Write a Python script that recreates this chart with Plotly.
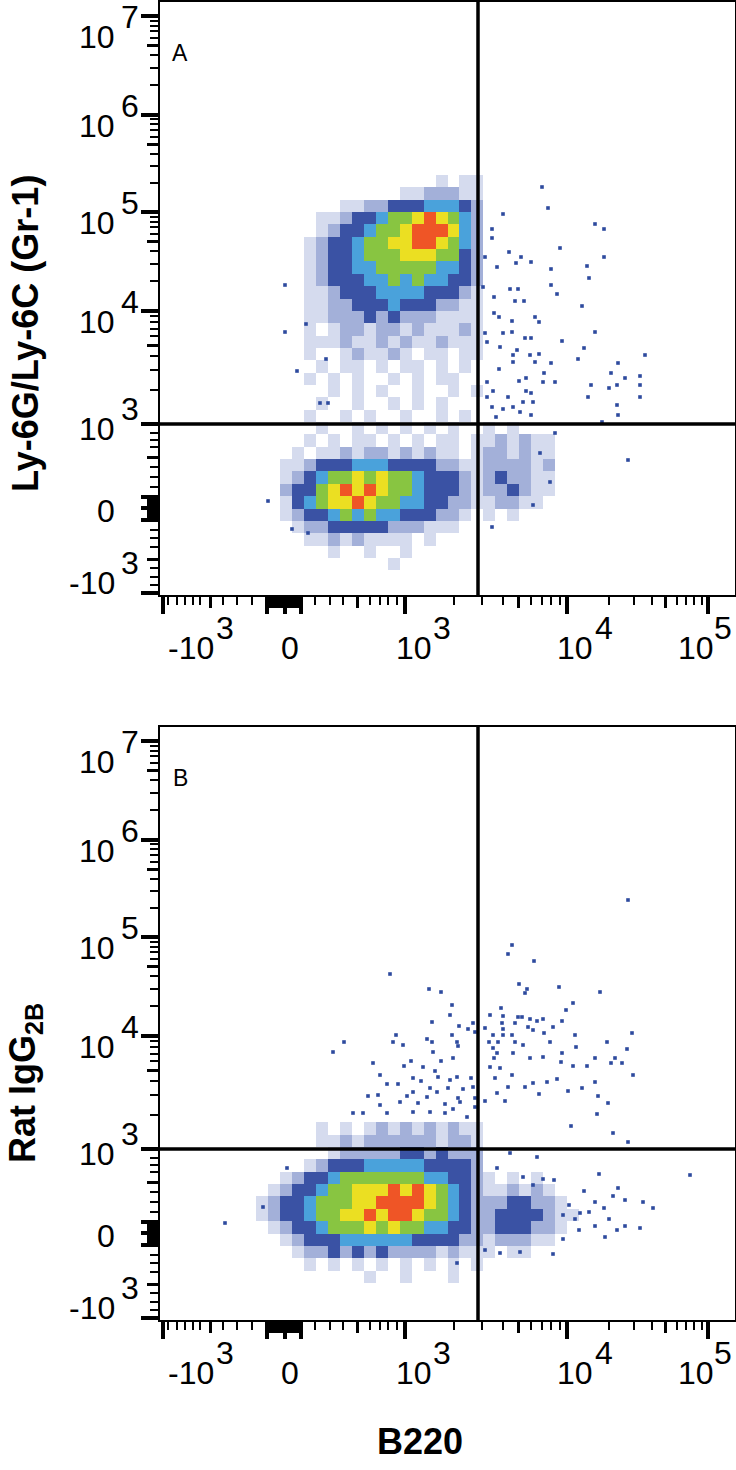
import numpy as np
import plotly.graph_objects as go

# Both panels use the same display scale (channels of the biexponential axes)
X_MAX = 575
Y_MAX = 593
N_CELLS = 48
DX = X_MAX / N_CELLS
DY = Y_MAX / N_CELLS

# quadrant gates (B220 vertical, 10^3 horizontal)
GATE_X = 318
GATE_Y = 171

# density levels, sparse -> dense
LEVELS = ".-bcgyr"
LEVEL_COLORS = ["#d5dbee", "#a3b0d9", "#3a52a4", "#4aa2db", "#88c541", "#ebdf22", "#ef5526"]
DOT_COLOR = "#2d4a9e"

# density maps: (row, first column, cells)
density_a = [
    (33, 23, ". .."),
    (32, 20, "..---.."),
    (31, 15, "..--bbbcccb-"),
    (30, 13, "..-bbcggyrygc-"),
    (29, 13, ".-bbcggyrrryc-"),
    (28, 12, ".-bbcggyyrrygc-"),
    (27, 12, ".-bbcgggyyyggb-"),
    (26, 12, ".-bbccgggggccb-"),
    (25, 12, ".-bbbccgcgccbb-"),
    (24, 12, "..-bbbccccbbb-."),
    (23, 12, "..--bbbcbbb--.."),
    (22, 12, "..---b-b---...."),
    (21, 12, ". .--.--.-...-."),
    (20, 12, "...-..-.-..-..."),
    (19, 12, ".  .-..-. .. .."),
    (18, 12, " . .. . .. . . "),
    (17, 12, ". . .  . . ..  "),
    (16, 12, "  . . .  .  . ."),
    (15, 12, " .  .  . . .   "),
    (14, 12, ".  . .  .  . . "),
    (13, 13, ".  . . . . ."),
    (13, 27, ". ."),
    (12, 12, ". . .. . . .. ."),
    (12, 27, ".-.-.."),
    (11, 11, ". ..-.--.-.-.. ."),
    (11, 27, "--.-.."),
    (10, 10, "..-bbbcccbbbb--."),
    (10, 26, ".----.-"),
    (9, 10, ".-bcggygyggcbbb-."),
    (9, 27, "-b--.."),
    (8, 10, "-bbgyryryggcbbb-."),
    (8, 27, "--b-.."),
    (7, 10, ".bcgyyryggccbb--."),
    (7, 27, ".--.."),
    (6, 10, ".-bbcgcgccbbb--."),
    (6, 27, ". ."),
    (5, 11, ".--bbbbb---..."),
    (4, 12, "..-.-.... ."),
    (3, 14, ".  .  ."),
    (2, 19, "."),
]

density_b = [
    (15, 13, ". . .-.-.-.-.."),
    (14, 13, "..-.------.--."),
    (13, 14, ".-----bb-b---"),
    (12, 12, ".-bbbcccccbbbb-"),
    (11, 10, ".-bbcgggggggccbb-"),
    (11, 27, ". . ."),
    (10, 9, ".-bbcggyyyryrygcb-"),
    (10, 27, "..-.-."),
    (9, 8, ".-bbcgggyyrrrrygcb-"),
    (9, 27, "--bb--."),
    (8, 8, ".-bbcggyyryrryggcb-"),
    (8, 27, "-bbbb-.."),
    (7, 9, ".-bbcgggygyggccbb-"),
    (7, 27, "-bbb--."),
    (6, 10, ".-bbbccccccbbbb--"),
    (6, 27, ".---.."),
    (5, 11, ".--b-b-b----.-.."),
    (5, 27, ". .."),
    (4, 12, ". . . . . . . ."),
    (3, 17, ".  .   ."),
]

# isolated events
dots_a_x = [382, 388, 343, 435, 444, 332, 332, 400, 349, 361, 371, 444, 325, 337, 356,
            391, 427, 429, 391, 323, 350, 358, 397, 334, 355, 364, 422, 334, 339, 352,
            375, 379, 325, 343, 352, 365, 371, 402, 435, 327, 340, 357, 353, 370, 379,
            424, 418, 485, 353, 375, 391, 458, 339, 384, 451, 480, 327, 359, 366, 383,
            395, 465, 431, 449, 457, 480, 333, 366, 371, 327, 348, 428, 480, 363, 373,
            457, 332, 343, 353, 360, 371, 458, 336, 442,
            125, 125, 146, 137, 166, 160, 168,
            108, 132, 148, 332, 468, 395, 380, 390, 373]
dots_a_y = [408, 387, 381, 371, 366, 366, 357, 347, 343, 338, 333, 338, 338, 328, 332,
            326, 329, 317, 310, 308, 306, 306, 301, 298, 294, 294, 289, 282, 278, 274,
            278, 273, 262, 262, 263, 257, 257, 254, 263, 253, 248, 245, 240, 240, 241,
            247, 236, 240, 233, 233, 232, 232, 226, 222, 222, 219, 213, 214, 217, 213,
            213, 217, 210, 207, 210, 210, 204, 204, 202, 198, 198, 198, 198, 193, 193,
            190, 188, 186, 188, 183, 180, 180, 178, 173,
            310, 263, 271, 224, 236, 192, 192,
            94, 66, 62, 68, 135, 162, 142, 113, 90]

dots_b_x = [230, 269, 281, 292, 290, 272, 299, 308, 313, 292, 315, 184, 173, 233, 236,
            243, 267, 272, 297, 298, 273, 213, 251, 244, 263, 293, 281, 220, 275, 278,
            297, 290, 238, 253, 261, 311, 227, 270, 277, 288, 303, 313, 218, 247, 253,
            267, 298, 315, 208, 220, 240, 258, 285, 300, 315, 193, 203, 227, 253, 270,
            285, 293, 307,
            468, 352, 348, 374, 359, 367, 365, 399, 440, 413, 406, 341, 330, 343, 358,
            362, 370, 377, 383, 402, 342, 355, 393, 325, 343, 368, 373, 333, 343, 352,
            384, 415, 472, 329, 338, 355, 363, 390, 416, 447, 333, 337, 353, 383, 402,
            467, 334, 370, 435, 455, 462, 451, 330, 340, 401, 413, 427, 473, 335, 352,
            387, 397, 435, 373, 365, 348, 408, 422, 337, 345, 379, 438, 448, 325, 437,
            411, 453, 468,
            350, 377, 439, 337, 363, 373, 383, 394, 424, 458, 453, 435, 444, 409, 420,
            429, 403, 415, 449, 465, 483, 493, 435, 419, 457, 465, 480, 445, 403, 393,
            360, 340, 325, 297, 530,
            65, 127, 103]
dots_b_y = [346, 331, 328, 315, 305, 298, 294, 291, 297, 285, 288, 278, 268, 278, 285,
            275, 281, 278, 278, 274, 268, 257, 259, 254, 253, 262, 259, 245, 249, 243,
            243, 240, 236, 242, 239, 242, 236, 232, 228, 232, 231, 233, 225, 224, 228,
            223, 222, 222, 224, 215, 218, 217, 216, 218, 213, 207, 207, 207, 208, 208,
            207, 211, 203,
            420, 375, 366, 359, 336, 331, 327, 333, 328, 317, 310, 312, 305, 304, 303,
            303, 301, 299, 301, 299, 297, 297, 293, 292, 291, 293, 290, 285, 285, 285,
            287, 285, 287, 278, 278, 278, 275, 278, 273, 278, 272, 267, 267, 263, 267,
            271, 262, 262, 262, 262, 257, 257, 253, 252, 258, 254, 254, 245, 242, 245,
            238, 241, 238, 237, 233, 233, 229, 232, 227, 219, 226, 224, 217, 219, 206,
            194, 187, 178,
            167, 163, 146, 152, 143, 135, 141, 140, 129, 132, 124, 118, 112, 115, 107,
            108, 105, 101, 101, 120, 118, 112, 94, 90, 90, 94, 92, 83, 81, 66,
            68, 67, 70, 57, 145,
            97, 152, 113]

# axis ticks (display channels)
X_DECADES = [245, 407, 548]            # 10^3, 10^4, 10^5
Y_DECADES = [171, 284, 383, 480, 579]  # 10^3 ... 10^7
X_MAJOR = [3, 107, 125, 141, 245, 407, 548]
X_MID = [50, 110, 113, 116, 119, 122, 128, 131, 134, 137, 197]
X_MINOR_LIN = [8, 17, 25, 33, 40, 63, 77, 92, 155, 170, 183, 210, 220, 228, 237]
Y_MAJOR = [2, 75, 87, 98, 171, 284, 383, 480, 579]
Y_MID = [36, 78, 81, 84, 90, 93, 96, 138]
Y_MINOR_LIN = [10, 18, 27, 48, 57, 65, 108, 118, 128, 148, 155, 162]

X_LABELS = [(3, "-10", "3"), (125, "0", ""), (245, "10", "3"), (407, "10", "4"), (548, "10", "5")]
Y_LABELS = [(579, "10", "7"), (480, "10", "6"), (383, "10", "5"), (284, "10", "4"),
            (171, "10", "3"), (87, "0", ""), (2, "-10", "3")]
# label offsets in pixels from the tick: (base, exponent)
X_LABEL_DX = [(28, 62), (5, 0), (9, 37), (8, 37), (-12, 15)]
Y_LABEL_DY = [(21, 1), (11, -9), (11, -9), (11, -9), (5, -15), (3, 0), (-10, -30)]


def decade_ticks(decades):
    mids, minors = [], []
    for lo, hi in zip(decades[:-1], decades[1:]):
        for n in range(2, 10):
            pos = lo + (hi - lo) * np.log10(n)
            (mids if n == 5 else minors).append(round(float(pos), 1))
    return mids, minors


xm, xn = decade_ticks(X_DECADES)
ym, yn = decade_ticks(Y_DECADES)
x_mid = X_MID + xm
x_minor = X_MINOR_LIN + xn
y_mid = Y_MID + ym
y_minor = Y_MINOR_LIN + yn


def density_grid(segments):
    z = [[None] * N_CELLS for _ in range(N_CELLS)]
    for row, col0, cells in segments:
        for k, ch in enumerate(cells):
            if ch != " ":
                z[row][col0 + k] = LEVELS.index(ch) + 1
    return z


n_lev = len(LEVELS)
colorscale = []
for i, c in enumerate(LEVEL_COLORS):
    colorscale += [[i / n_lev, c], [(i + 1) / n_lev, c]]

cell_x = [DX * (i + 0.5) for i in range(N_CELLS)]
cell_y = [DY * (j + 0.5) for j in range(N_CELLS)]

W, H = 736, 1470
X_DOM = [160 / W, 735 / W]
Y_DOM_A = [1 - 595 / H, 1 - 2 / H]
Y_DOM_B = [1 - 1320 / H, 1 - 727 / H]

TICK_FONT = dict(family="Liberation Sans Narrow, Liberation Sans", size=32, color="black")
TITLE_FONT = dict(family="Liberation Sans, Arial", size=36, color="black", weight="bold")

fig = go.Figure()
for dens, dx, dy, xa, ya in [(density_a, dots_a_x, dots_a_y, "x", "y"),
                             (density_b, dots_b_x, dots_b_y, "x2", "y2")]:
    fig.add_trace(go.Heatmap(x=cell_x, y=cell_y, z=density_grid(dens), colorscale=colorscale,
                             zmin=0.5, zmax=n_lev + 0.5, showscale=False, hoverinfo="skip",
                             xaxis=xa, yaxis=ya))
    fig.add_trace(go.Scatter(x=dx, y=dy, mode="markers", xaxis=xa, yaxis=ya, hoverinfo="skip",
                             marker=dict(symbol="square", size=3.6, color=DOT_COLOR, line_width=0),
                             showlegend=False))

# empty traces so the overlay axes carrying the mid-length ticks get drawn
for xa, ya in [("x3", "y"), ("x", "y3"), ("x4", "y2"), ("x2", "y4")]:
    fig.add_trace(go.Scatter(x=[None], y=[None], xaxis=xa, yaxis=ya, mode="markers",
                             hoverinfo="skip", showlegend=False))


def main_axis(dom, rng, anchor, major, minor):
    return dict(domain=dom, range=rng, anchor=anchor, showline=True, mirror=True,
                linecolor="black", linewidth=2, ticks="outside", tickvals=major,
                ticklen=17, tickwidth=4, tickcolor="black", showticklabels=False,
                showgrid=False, zeroline=False, fixedrange=True,
                minor=dict(tickvals=minor, ticks="outside", ticklen=8, tickwidth=2,
                           tickcolor="black", showgrid=False))


def mid_axis(dom, rng, anchor, over, mids, side):
    return dict(domain=dom, range=rng, anchor=anchor, overlaying=over, side=side,
                ticks="outside", tickvals=mids, ticklen=12, tickwidth=2.5, tickcolor="black",
                showticklabels=False, showline=False, showgrid=False, zeroline=False,
                fixedrange=True)


fig.update_layout(
    width=W, height=H, margin=dict(l=0, r=0, t=0, b=0),
    paper_bgcolor="white", plot_bgcolor="white", showlegend=False,
    xaxis=main_axis(X_DOM, [0, X_MAX], "y", X_MAJOR, x_minor),
    yaxis=main_axis(Y_DOM_A, [0, Y_MAX], "x", Y_MAJOR, y_minor),
    xaxis2=main_axis(X_DOM, [0, X_MAX], "y2", X_MAJOR, x_minor),
    yaxis2=main_axis(Y_DOM_B, [0, Y_MAX], "x2", Y_MAJOR, y_minor),
    xaxis3=mid_axis(X_DOM, [0, X_MAX], "y", "x", x_mid, "bottom"),
    yaxis3=mid_axis(Y_DOM_A, [0, Y_MAX], "x", "y", y_mid, "left"),
    xaxis4=mid_axis(X_DOM, [0, X_MAX], "y2", "x2", x_mid, "bottom"),
    yaxis4=mid_axis(Y_DOM_B, [0, Y_MAX], "x2", "y2", y_mid, "left"),
)

shapes = []
notes = []
for xa, ya, tag in [("x", "y", "A"), ("x2", "y2", "B")]:
    line = dict(color="black", width=3.5)
    shapes.append(dict(type="line", xref=xa, yref=f"{ya} domain", x0=GATE_X, x1=GATE_X,
                       y0=0, y1=1, line=line, layer="above"))
    shapes.append(dict(type="line", xref=f"{xa} domain", yref=ya, x0=0, x1=1,
                       y0=GATE_Y, y1=GATE_Y, line=line, layer="above"))
    notes.append(dict(xref=f"{xa} domain", yref=f"{ya} domain", x=0, y=1, xshift=20, yshift=-51,
                      text=tag, showarrow=False, xanchor="center", yanchor="middle",
                      font=dict(family="Liberation Sans, Arial", size=23, color="black")))
    for (val, base, exp), (bdx, edx) in zip(X_LABELS, X_LABEL_DX):
        notes.append(dict(xref=xa, yref=f"{ya} domain", x=val, y=0, xshift=bdx, yshift=-53,
                          text=base, showarrow=False, xanchor="center", yanchor="middle",
                          font=TICK_FONT))
        if exp:
            notes.append(dict(xref=xa, yref=f"{ya} domain", x=val, y=0, xshift=edx, yshift=-33,
                              text=exp, showarrow=False, xanchor="center", yanchor="middle",
                              font=TICK_FONT))
    for (val, base, exp), (bdy, edy) in zip(Y_LABELS, Y_LABEL_DY):
        notes.append(dict(xref=f"{xa} domain", yref=ya, x=0, y=val, xshift=-43, yshift=-bdy,
                          text=base, showarrow=False, xanchor="right", yanchor="middle",
                          font=TICK_FONT))
        if exp:
            notes.append(dict(xref=f"{xa} domain", yref=ya, x=0, y=val, xshift=-41, yshift=-edy,
                              text=exp, showarrow=False, xanchor="left", yanchor="middle",
                              font=TICK_FONT))

notes.append(dict(xref="paper", yref="paper", x=25 / W, y=1 - 334 / H, text="Ly-6G/Ly-6C (Gr-1)",
                  textangle=-90, showarrow=False, xanchor="center", yanchor="middle", font=TITLE_FONT))
notes.append(dict(xref="paper", yref="paper", x=25 / W, y=1 - 1083 / H, text="Rat IgG<sub>2B</sub>",
                  textangle=-90, showarrow=False, xanchor="center", yanchor="middle", font=TITLE_FONT))
notes.append(dict(xref="paper", yref="paper", x=420 / W, y=1 - 1441 / H, text="B220",
                  showarrow=False, xanchor="center", yanchor="middle", font=TITLE_FONT))

fig.update_layout(shapes=shapes, annotations=notes)
# the page's default body margin would push the 736 px figure off the window
fig.write_html("out.html", config={"displayModeBar": False},
               post_script="document.body.style.margin = '0';")
